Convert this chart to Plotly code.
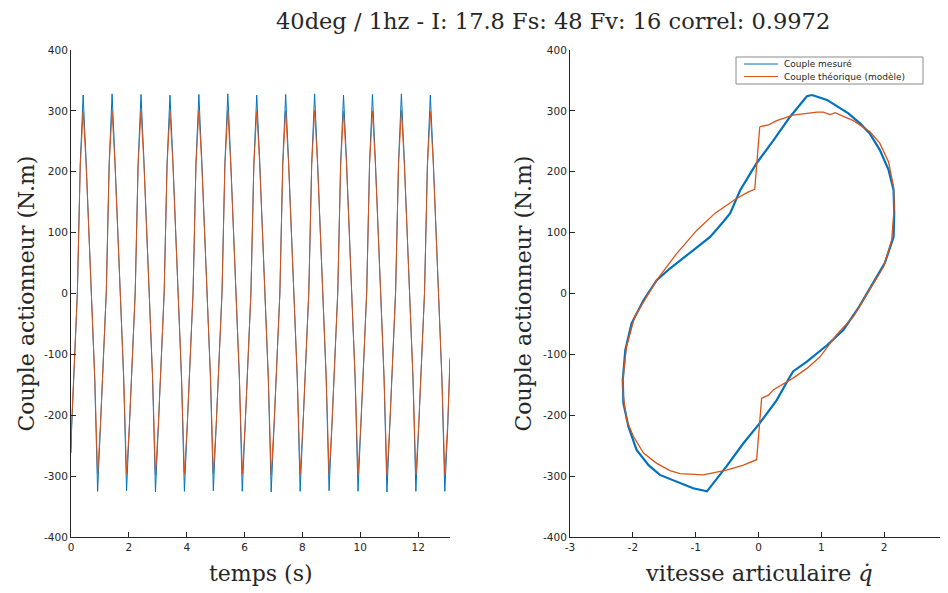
import plotly.graph_objects as go

# ---------------- data: time series (left) ----------------
time_s = [0.0] + [round(c + 0.02 + 0.1 * k, 2) for c in range(13) for k in range(10)] + [13.02, 13.1]

couple_mesure_t = [
    -262,
    -224, -112, 1, 214, 326, 221, 107, -4, -141, -325,
    -221, -109, 3, 216, 328, 219, 108, -6, -139, -324,
    -223, -111, 2, 215, 327, 220, 109, -5, -140, -326,
    -222, -110, 1, 214, 326, 221, 107, -5, -141, -325,
    -221, -109, 3, 216, 327, 219, 108, -4, -139, -324,
    -223, -111, 2, 215, 328, 220, 109, -6, -140, -325,
    -222, -110, 2, 214, 326, 221, 107, -5, -141, -326,
    -224, -112, 1, 216, 327, 219, 108, -4, -139, -325,
    -221, -109, 3, 215, 328, 220, 109, -6, -140, -324,
    -223, -111, 2, 214, 326, 221, 107, -5, -141, -325,
    -222, -110, 1, 216, 327, 219, 108, -4, -139, -326,
    -221, -109, 3, 215, 328, 220, 109, -6, -140, -325,
    -223, -111, 2, 214, 326, 221, 107, -5, -141, -325,
    -222, -109,
]

couple_modele_t = [
    -255,
    -216, -108, 1, 210, 299, 215, 104, -4, -136, -297,
    -214, -106, 3, 212, 300, 213, 105, -6, -135, -296,
    -215, -107, 2, 211, 300, 214, 106, -5, -136, -298,
    -216, -107, 1, 210, 299, 215, 104, -5, -137, -297,
    -214, -106, 3, 212, 300, 213, 105, -4, -135, -296,
    -215, -107, 2, 211, 301, 214, 106, -6, -136, -297,
    -216, -108, 2, 210, 299, 215, 104, -5, -137, -298,
    -214, -107, 1, 212, 300, 213, 105, -4, -135, -297,
    -215, -106, 3, 211, 301, 214, 106, -6, -136, -296,
    -216, -107, 2, 210, 299, 215, 104, -5, -137, -297,
    -214, -108, 1, 212, 300, 213, 105, -4, -135, -298,
    -215, -106, 3, 211, 301, 214, 106, -6, -136, -297,
    -216, -107, 2, 210, 299, 215, 104, -5, -137, -297,
    -215, -105,
]

# ---------------- data: torque vs joint velocity (right) ----------------
vitesse_mesure = [0.85, 1.09, 1.43, 1.62, 1.77, 1.93, 2.07, 2.15, 2.16, 2.15, 2.01, 1.85,
                  1.60, 1.35, 1.09, 0.77, 0.55, 0.47, 0.29, 0.02, -0.24, -0.51, -0.67,
                  -0.82, -1.04, -1.30, -1.57, -1.75, -1.94, -2.07, -2.15, -2.16, -2.12,
                  -2.02, -1.83, -1.62, -1.41, -1.04, -0.77, -0.56, -0.45, -0.29, -0.03,
                  0.24, 0.50, 0.77, 0.85]
couple_mesure_v = [326, 318, 296, 279, 263, 236, 203, 170, 132, 93, 50, 22,
                   -22, -60, -85, -112, -128, -142, -175, -213, -246, -284, -306,
                   -325, -320, -309, -298, -282, -257, -219, -180, -142, -93,
                   -49, -11, 22, 41, 71, 93, 118, 132, 170, 214,
                   252, 290, 324, 326]

vitesse_modele = [0.02, 0.16, 0.29, 0.55, 0.93, 1.03, 1.14, 1.22, 1.35, 1.51, 1.77, 1.93,
                  2.07, 2.15, 2.16, 2.12, 1.99, 1.83, 1.51, 1.24, 0.98, 0.77, 0.55, 0.24,
                  0.16, 0.05, -0.03, -0.24, -0.51, -0.88, -1.25, -1.41, -1.62, -1.83,
                  -1.99, -2.10, -2.15, -2.16, -2.10, -1.97, -1.78, -1.62, -1.30, -0.98,
                  -0.69, -0.51, -0.35, -0.16, -0.06, 0.02]
couple_modele_v = [274, 277, 284, 293, 298, 298, 294, 297, 291, 284, 266, 247,
                   216, 175, 142, 88, 44, 17, -38, -68, -104, -123, -139, -158,
                   -167, -172, -273, -282, -290, -298, -296, -291, -279, -262,
                   -235, -208, -169, -142, -87, -38, -5, 22, 66, 104,
                   132, 145, 156, 167, 171, 274]

y_ticks = [-400, -300, -200, -100, 0, 100, 200, 300, 400]
x_ticks_left = [0, 2, 4, 6, 8, 10, 12]
x_ticks_right = [-3, -2, -1, 0, 1, 2, 3]
noms_series = ["Couple mesuré", "Couple théorique (modèle)"]

titre = "40deg / 1hz - I: 17.8 Fs: 48 Fv: 16 correl: 0.9972"

BLUE = "#0072BD"
ORANGE = "#D95319"
AX = "#262626"
OFF = 8                      # page body margin of the html page
W, H = 948 - OFF, 593 - OFF  # figure size so that it ends at the window edge
TOP, BOT = 50, 537           # plot area top/bottom in window pixels
PH = BOT - TOP


def lbl(vals):
    return [str(v) for v in vals]


def px_x(p):
    return (p - OFF) / W


def px_y(p):
    return 1 - (p - TOP) / PH


fig = go.Figure()
fig.add_trace(go.Scatter(x=time_s, y=couple_mesure_t, mode="lines",
                         line=dict(color=BLUE, width=1), showlegend=False,
                         xaxis="x", yaxis="y"))
fig.add_trace(go.Scatter(x=time_s, y=couple_modele_t, mode="lines",
                         line=dict(color=ORANGE, width=1), showlegend=False,
                         xaxis="x", yaxis="y"))
fig.add_trace(go.Scatter(x=vitesse_mesure, y=couple_mesure_v, mode="lines",
                         line=dict(color=BLUE, width=2.2), name=noms_series[0],
                         showlegend=False, xaxis="x2", yaxis="y2"))
fig.add_trace(go.Scatter(x=vitesse_modele, y=couple_modele_v, mode="lines",
                         line=dict(color=ORANGE, width=1.3), name=noms_series[1],
                         showlegend=False, xaxis="x2", yaxis="y2"))

axis_common = dict(showline=True, linecolor=AX, linewidth=1, ticks="inside",
                   ticklen=5, tickcolor=AX, tickwidth=1, showgrid=False, zeroline=False,
                   tickfont=dict(family="DejaVu Sans", size=10.5, color=AX), mirror=False,
                   automargin=False)

fig.update_layout(
    template="none",
    width=W, height=H,
    margin=dict(l=0, r=0, t=TOP - OFF, b=H - (BOT - OFF), pad=0),
    paper_bgcolor="white", plot_bgcolor="white",
    showlegend=False,
    xaxis=dict(domain=[px_x(71), px_x(450)], range=[0, 13.1], tickvals=x_ticks_left,
               ticktext=lbl(x_ticks_left), anchor="y", **axis_common),
    yaxis=dict(domain=[0, 1], range=[-400, 400], tickvals=y_ticks, ticktext=lbl(y_ticks),
               anchor="x", **axis_common),
    xaxis2=dict(domain=[px_x(570), min(1.0, px_x(947))], range=[-3, 3], tickvals=x_ticks_right,
                ticktext=lbl(x_ticks_right), anchor="y2", **axis_common),
    yaxis2=dict(domain=[0, 1], range=[-400, 400], tickvals=y_ticks, ticktext=lbl(y_ticks),
                anchor="x2", **axis_common),
)

serif = dict(family="DejaVu Serif", color=AX)
ann = [
    dict(text=titre, x=px_x(553), y=px_y(21), xref="paper", yref="paper",
         showarrow=False, xanchor="center", yanchor="middle", font=dict(size=22.5, **serif)),
    dict(text="temps (s)", x=px_x(261), y=px_y(573), xref="paper", yref="paper",
         showarrow=False, xanchor="center", yanchor="middle", font=dict(size=22, **serif)),
    dict(text="vitesse articulaire <i>q̇</i>", x=px_x(759), y=px_y(573),
         xref="paper", yref="paper", showarrow=False, xanchor="center", yanchor="middle",
         font=dict(size=22.5, **serif)),
    dict(text="Couple actionneur (N.m)", x=px_x(26), y=0.5, xref="paper", yref="paper",
         showarrow=False, xanchor="center", yanchor="middle", textangle=-90,
         font=dict(size=22, **serif)),
    dict(text="Couple actionneur (N.m)", x=px_x(523), y=0.5, xref="paper", yref="paper",
         showarrow=False, xanchor="center", yanchor="middle", textangle=-90,
         font=dict(size=22, **serif)),
]

# custom compact legend (MATLAB style)
leg_x0, leg_x1, leg_y0, leg_y1 = 736, 923, 57, 84
shapes = [
    dict(type="rect", xref="paper", yref="paper", x0=px_x(leg_x0), x1=px_x(leg_x1),
         y0=px_y(leg_y1), y1=px_y(leg_y0), line=dict(color="#8a8a8a", width=1),
         fillcolor="white", layer="above"),
]
for i, (col, nom) in enumerate(zip([BLUE, ORANGE], noms_series)):
    yy = 64 + i * 12.5
    shapes.append(dict(type="line", xref="paper", yref="paper", x0=px_x(744), x1=px_x(778),
                       y0=px_y(yy), y1=px_y(yy), line=dict(color=col, width=1),
                       layer="above"))
    ann.append(dict(text=nom, x=px_x(782), y=px_y(yy), xref="paper", yref="paper",
                    showarrow=False, xanchor="left", yanchor="middle",
                    font=dict(family="DejaVu Sans", size=9, color=AX)))

fig.update_layout(annotations=ann, shapes=shapes)

fig.write_html("out.html")
